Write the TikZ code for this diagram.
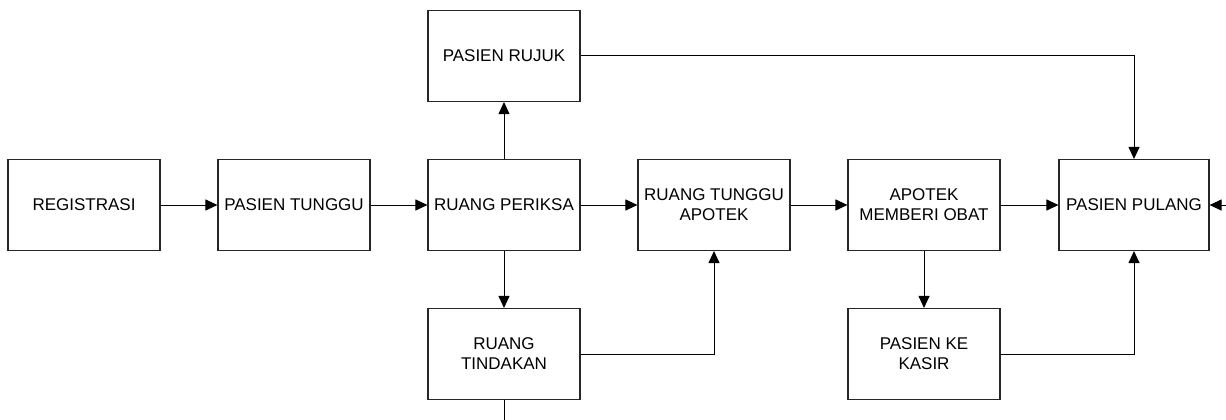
\documentclass[tikz,border=0pt]{standalone}
\usepackage{fontspec}
\setmainfont{Liberation Sans}
\usetikzlibrary{arrows.meta}
\begin{document}
\begin{tikzpicture}[x=1pt,y=-1pt,
  box/.style={draw=black!85,line width=1.1pt,minimum width=152pt,minimum height=91pt,inner sep=2pt,align=center,font=\fontsize{17}{20}\selectfont,text=black},
  link/.style={draw=black,line width=1pt,-{Triangle[length=12pt,width=11pt]}},
  plain/.style={draw=black,line width=1pt}]
\useasboundingbox (0,0) rectangle (1226,420);
\node[box] (reg) at (84,205) {REGISTRASI};
\node[box] (pt) at (294,205) {PASIEN TUNGGU};
\node[box] (rp) at (504,205) {RUANG PERIKSA};
\node[box] (rta) at (714,205) {RUANG TUNGGU\\APOTEK};
\node[box] (amo) at (924,205) {APOTEK\\MEMBERI OBAT};
\node[box,minimum width=150pt] (pp) at (1134,205) {PASIEN PULANG};
\node[box] (pr) at (504,56) {PASIEN RUJUK};
\node[box] (rt) at (504,354) {RUANG\\TINDAKAN};
\node[box] (pkk) at (924,354) {PASIEN KE\\KASIR};
\coordinate (bot) at (504,421);
\coordinate (rin) at (1227,205);
\draw[link] (reg) -- (pt);
\draw[link] (pt) -- (rp);
\draw[link] (rp) -- (rta);
\draw[link] (rta) -- (amo);
\draw[link] (amo) -- (pp);
\draw[link] (rp) -- (pr);
\draw[link] (rp) -- (rt);
\draw[link] (amo) -- (pkk);
\draw[link] (pr.east) -| (pp.north);
\draw[link] (rt.east) -| (rta.south);
\draw[link] (pkk.east) -| (pp.south);
\draw[plain] (rt.south) -- (bot);
\draw[link] (rin) -- (pp.east);
\end{tikzpicture}
\end{document}
